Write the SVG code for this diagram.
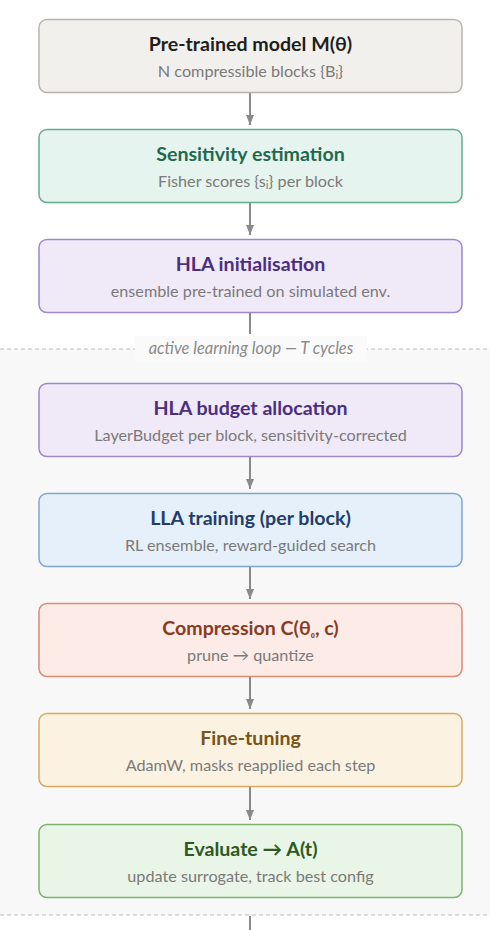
<svg xmlns="http://www.w3.org/2000/svg" width="490" height="930" viewBox="0 0 490 930">
<defs>
<style>
.box{stroke-width:1.5}
.t{font-family:Lato,"Noto Sans",sans-serif;font-weight:700;font-size:19.6px;text-anchor:middle}
.s{font-family:Lato,"Noto Sans",sans-serif;font-size:16.2px;fill:#7a7a7a;text-anchor:middle}
.c{stroke:#8a8a8a;stroke-width:2;fill:none}
.dash{stroke:#bdbdbd;stroke-width:1;stroke-dasharray:4 3}
</style>
<marker id="ah" viewBox="0 0 10 8" refX="10" refY="4" markerWidth="10" markerHeight="8" markerUnits="userSpaceOnUse" orient="auto">
<path d="M0,0 L10,4 L0,8 Z" fill="#8a8a8a"/>
</marker>
</defs>
<rect width="490" height="930" fill="#ffffff"/>
<g id="loop">
<rect x="0" y="349" width="490" height="566" fill="#f8f8f8"/>
<line class="dash" x1="0" y1="349" x2="490" y2="349"/>
<line class="dash" x1="0" y1="915" x2="490" y2="915"/>
<rect x="135" y="336" width="232" height="26" fill="#fafafa"/>
<text x="251" y="353.5" font-family="Lato,'Noto Sans',sans-serif" font-style="italic" font-size="16.4" fill="#8a8a8a" text-anchor="middle">active learning loop — T cycles</text>
</g>
<g id="connectors">
<line class="c" x1="250" y1="93" x2="250" y2="125" marker-end="url(#ah)"/>
<line class="c" x1="250" y1="203" x2="250" y2="235" marker-end="url(#ah)"/>
<line class="c" x1="250" y1="313" x2="250" y2="334"/>
<line class="c" x1="250" y1="457" x2="250" y2="489" marker-end="url(#ah)"/>
<line class="c" x1="250" y1="567" x2="250" y2="599" marker-end="url(#ah)"/>
<line class="c" x1="250" y1="677" x2="250" y2="709" marker-end="url(#ah)"/>
<line class="c" x1="250" y1="787" x2="250" y2="820" marker-end="url(#ah)"/>
<line class="c" x1="250" y1="916" x2="250" y2="930"/>
</g>
<g id="n1">
<rect class="box" x="39" y="19.5" width="423" height="73" rx="8" fill="#f2f0ec" stroke="#b9b5ae"/>
<text class="t" x="250.5" y="51" fill="#1e1e1e">Pre-trained model M(θ)</text>
<text class="s" x="250.5" y="76.5">N compressible blocks {B<tspan font-size="11.5" dy="2">i</tspan><tspan dy="-2">}</tspan></text>
</g>
<g id="n2">
<rect class="box" x="39" y="129.5" width="423" height="73" rx="8" fill="#e5f4ee" stroke="#62ac8e"/>
<text class="t" x="250.5" y="161" fill="#1f6a4e">Sensitivity estimation</text>
<text class="s" x="250.5" y="186.5">Fisher scores {s<tspan font-size="11.5" dy="2">i</tspan><tspan dy="-2">} per block</tspan></text>
</g>
<g id="n3">
<rect class="box" x="39" y="239.5" width="423" height="73" rx="8" fill="#f0e9f8" stroke="#9c88cb"/>
<text class="t" x="250.5" y="271" fill="#4b2e82">HLA initialisation</text>
<text class="s" x="250.5" y="296.5">ensemble pre-trained on simulated env.</text>
</g>
<g id="n4">
<rect class="box" x="39" y="383.5" width="423" height="73" rx="8" fill="#f0e9f8" stroke="#9c88cb"/>
<text class="t" x="250.5" y="415" fill="#4b2e82">HLA budget allocation</text>
<text class="s" x="250.5" y="440.5">LayerBudget per block, sensitivity-corrected</text>
</g>
<g id="n5">
<rect class="box" x="39" y="493.5" width="423" height="73" rx="8" fill="#e6f0fa" stroke="#7ca5d2"/>
<text class="t" x="250.5" y="525" fill="#1f3e6a">LLA training (per block)</text>
<text class="s" x="250.5" y="550.5">RL ensemble, reward-guided search</text>
</g>
<g id="n6">
<rect class="box" x="39" y="603.5" width="423" height="73" rx="8" fill="#fcebe6" stroke="#d98a72"/>
<text class="t" x="250.5" y="635" fill="#8a3b1f">Compression C(θ<tspan font-size="12.5" dy="2">₀</tspan><tspan dy="-2">, c)</tspan></text>
<text class="s" x="250.5" y="660.5">prune → quantize</text>
</g>
<g id="n7">
<rect class="box" x="39" y="713.5" width="423" height="73" rx="8" fill="#fcf2e1" stroke="#d5ab5e"/>
<text class="t" x="250.5" y="745" fill="#7a5318">Fine-tuning</text>
<text class="s" x="250.5" y="770.5">AdamW, masks reapplied each step</text>
</g>
<g id="n8">
<rect class="box" x="39" y="824.5" width="423" height="73" rx="8" fill="#e9f5e6" stroke="#7cb46d"/>
<text class="t" x="250.5" y="856" fill="#2b5a22">Evaluate → A(t)</text>
<text class="s" x="250.5" y="881.5">update surrogate, track best config</text>
</g>
</svg>
